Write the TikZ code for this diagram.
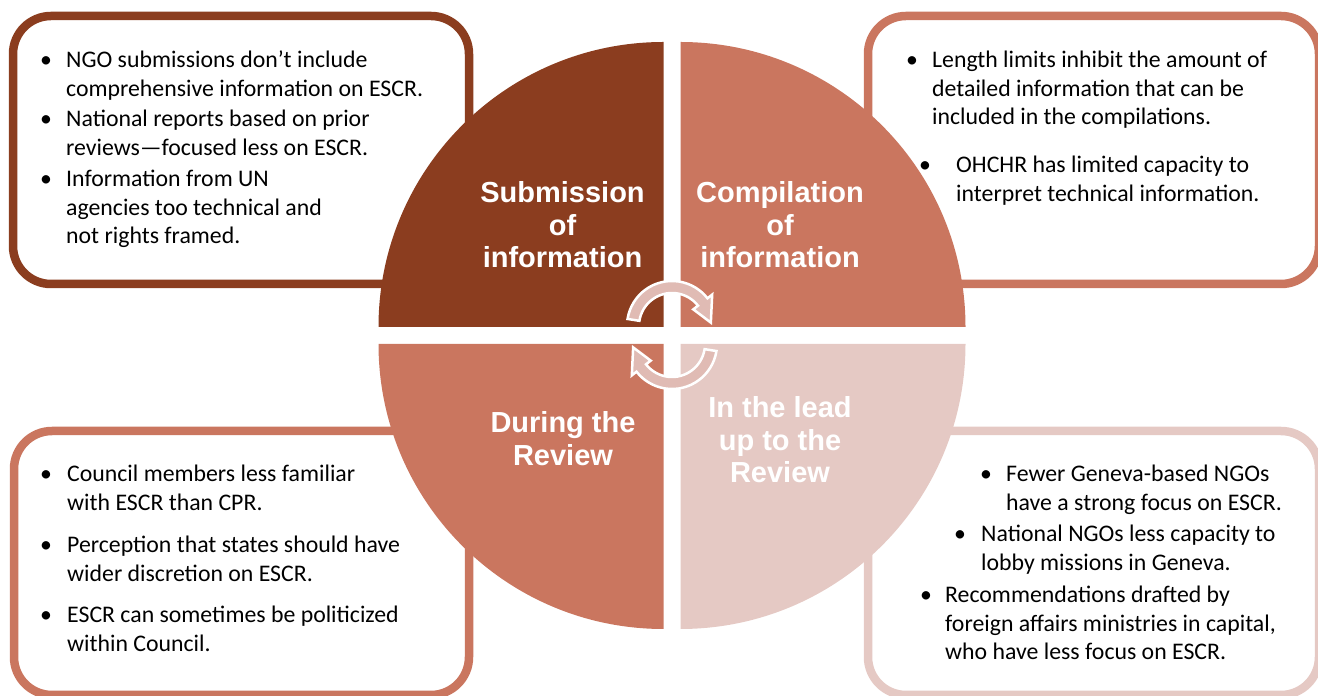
\documentclass[tikz,border=0pt]{standalone}
\usepackage{fontspec}
\setmainfont{Carlito}
\newfontfamily\headfont{Liberation Sans}
\usepackage{tikz}
\definecolor{darkbrown}{RGB}{139,61,31}
\definecolor{terracotta}{RGB}{202,118,95}
\definecolor{blush}{RGB}{229,201,196}
\definecolor{arrowpink}{RGB}{224,187,180}
\tikzset{
	panel/.style={
			rounded corners=38pt, line width=8.5pt, fill=white},
	phase/.style={
			anchor=base, inner sep=0pt, text=white,
			font=\headfont\bfseries\fontsize{29}{32.5}\selectfont},
	item/.style={
			anchor=base west, inner sep=0pt,
			font=\fontsize{23.8}{28.5}\selectfont},
	cyclearrow/.style={
			fill=arrowpink, draw=white, line width=2.5pt},
		}

\begin{document}
\begin{tikzpicture} [x=1pt, y=1pt]

		\useasboundingbox (0,0) rectangle (1318,696);

		% corner panels
		\draw[panel, draw=darkbrown] (13,412) rectangle (469,680);
		\draw[panel, draw=terracotta] (868,412) rectangle (1319,680);
		\draw[panel, draw=terracotta] (14,1) rectangle (469,265);
		\draw[panel, draw=blush] (868,1) rectangle (1319,265);

		% the four quarters
		\fill[darkbrown] (663.5,369) -- ++(-285,0) arc[start angle=180, end angle=90, radius=285] -- cycle;
		\fill[terracotta] (680.5,369) -- ++(0,285) arc[start angle=90, end angle=0, radius=285] -- cycle;
		\fill[terracotta] (663.5,352) -- ++(-285,0) arc[start angle=180, end angle=270, radius=285] -- cycle;
		\fill[blush] (680.5,352) -- ++(285,0) arc[start angle=0, end angle=-90, radius=285] -- cycle;

		\node[phase] (submission) at (562.5,493)
			{\begin{tabular}[t]{@{}c@{}}
					Submission \\ of \\ information
				\end{tabular}};
		\node[phase] (compilation) at (780,493)
			{\begin{tabular}[t]{@{}c@{}}
					Compilation \\ of \\ information
				\end{tabular}};
		\node[phase] (during) at (563,263)
			{\begin{tabular}[t]{@{}c@{}}
					During the \\ Review
				\end{tabular}};
		\node[phase] (leadup) at (780,278)
			{\begin{tabular}[t]{@{}c@{}}
					In the lead \\ up to the \\ Review
				\end{tabular}};

		% submission
		\node[item] (sub1) at (40,628)
			{\begin{tabular}[t]{@{}p{26pt}@{}l@{}}
					\textbullet & NGO submissions don't include \\
					& comprehensive information on ESCR.
				\end{tabular}};
		\node[item] (sub2) at (40,569)
			{\begin{tabular}[t]{@{}p{26pt}@{}l@{}}
					\textbullet & National reports based on prior \\
					& reviews---focused less on ESCR.
				\end{tabular}};
		\node[item] (sub3) at (40,509)
			{\begin{tabular}[t]{@{}p{26pt}@{}l@{}}
					\textbullet & Information from UN \\
					& agencies too technical and \\
					& not rights framed.
				\end{tabular}};

		% compilation
		\node[item] (comp1) at (906,628)
			{\begin{tabular}[t]{@{}p{26pt}@{}l@{}}
					\textbullet & Length limits inhibit the amount of \\
					& detailed information that can be \\
					& included in the compilations.
				\end{tabular}};
		\node[item] (comp2) at (919,523)
			{\begin{tabular}[t]{@{}p{37pt}@{}l@{}}
					\textbullet & OHCHR has limited capacity to \\
					& interpret technical information.
				\end{tabular}};

		% during the review
		\node[item] (dur1) at (40,214)
			{\begin{tabular}[t]{@{}p{27pt}@{}l@{}}
					\textbullet & Council members less familiar \\
					& with ESCR than CPR.
				\end{tabular}};
		\node[item] (dur2) at (40,143)
			{\begin{tabular}[t]{@{}p{27pt}@{}l@{}}
					\textbullet & Perception that states should have \\
					& wider discretion on ESCR.
				\end{tabular}};
		\node[item] (dur3) at (40,73)
			{\begin{tabular}[t]{@{}p{27pt}@{}l@{}}
					\textbullet & ESCR can sometimes be politicized \\
					& within Council.
				\end{tabular}};

		% lead up
		\node[item] (lead1) at (980,214)
			{\begin{tabular}[t]{@{}p{26pt}@{}l@{}}
					\textbullet & Fewer Geneva-based NGOs \\
					& have a strong focus on ESCR.
				\end{tabular}};
		\node[item] (lead2) at (954,154)
			{\begin{tabular}[t]{@{}p{27pt}@{}l@{}}
					\textbullet & National NGOs less capacity to \\
					& lobby missions in Geneva.
				\end{tabular}};
		\node[item] (lead3) at (920,93)
			{\begin{tabular}[t]{@{}p{25pt}@{}l@{}}
					\textbullet & Recommendations drafted by \\
					& foreign affairs ministries in capital, \\
					& who have less focus on ESCR.
				\end{tabular}};

		% cycle arrows
		\foreach \turn in {0,180} {
			\begin{scope}[rotate around={\turn:(672,361)}, shift={(672,370)}]
				\draw[cyclearrow] (171:45) arc[start angle=171, end angle=38, radius=45]
					-- (38:51) -- (5:39) -- (38:27) -- (38:33)
					arc[start angle=38, end angle=171, radius=33] -- cycle;
			\end{scope}
		}
%
\end{tikzpicture}
\end{document}
